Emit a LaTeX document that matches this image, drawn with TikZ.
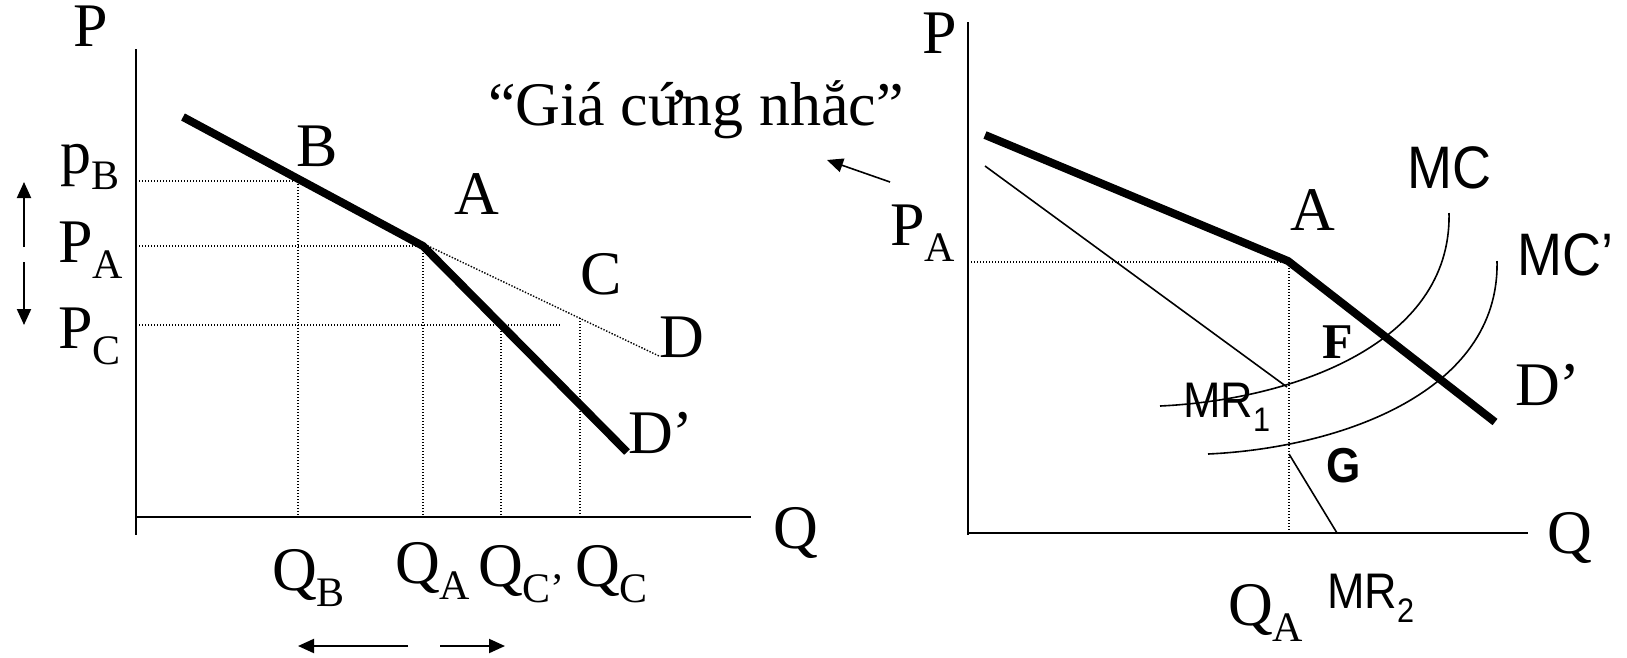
\documentclass[tikz,border=0pt]{standalone}
\usepackage{fontspec}
\setmainfont{Liberation Serif}
\newfontfamily\sansf[FakeStretch=0.9]{Liberation Sans}
\usetikzlibrary{arrows.meta}
\newcommand\lsub[1]{\raisebox{-0.26em}{\fontsize{42}{42}\selectfont #1}}
\newcommand\ssub[1]{\raisebox{-0.28em}{\fontsize{34}{34}\selectfont #1}}
\begin{document}
\begin{tikzpicture}[x=1pt,y=-1pt,
  lbl/.style={inner sep=0pt, anchor=base west, font=\fontsize{62}{70}\selectfont},
  slbl/.style={inner sep=0pt, anchor=base west, font=\sansf\fontsize{60}{66}\selectfont},
  mlbl/.style={inner sep=0pt, anchor=base west, font=\sansf\fontsize{50}{56}\selectfont},
  axisline/.style={line width=2pt},
  demand/.style={line width=8pt},
  thinline/.style={line width=1.6pt},
  dots/.style={line width=1.4pt, dash pattern=on 1.4pt off 1.6pt},
  arr/.style={line width=2pt, -{Triangle[length=16pt,width=14pt]}}]
\useasboundingbox (0,0) rectangle (1627,657);

% ---------------- left chart ----------------
\coordinate (Yt1) at (136,49);
\coordinate (Yb1) at (136,535);
\coordinate (Xl1) at (136,517);
\coordinate (Xr1) at (751,517);
\draw[axisline] (Yt1) -- (Yb1);
\draw[axisline] (Xl1) -- (Xr1);

\coordinate (S1) at (183,117);
\coordinate (K1) at (423,246);
\coordinate (E1) at (627,452);
\coordinate (Bp) at (298,181);
\coordinate (Bax) at (136,181);
\coordinate (Bq) at (298,517);
\coordinate (PAax) at (136,246);
\coordinate (QAq) at (423,517);
\coordinate (PCax) at (136,325);
\coordinate (PCend) at (561,325);
\coordinate (Cp) at (501,325);
\coordinate (Cq) at (501,517);
\coordinate (Dp) at (580,318);
\coordinate (Dq) at (580,517);
\coordinate (Ds) at (403,234);
\coordinate (De) at (659,356);

\draw[dots] (Bax) -- (Bp) -- (Bq);
\draw[dots] (PAax) -- (K1) -- (QAq);
\draw[dots] (PCax) -- (PCend);
\draw[dots] (Cp) -- (Cq);
\draw[dots] (Dp) -- (Dq);
\draw[dots] (Ds) -- (De);
\draw[demand] (S1) -- (K1) -- (E1);

\node[lbl] (lP) at (73,46) {P};
\node[lbl] (lpB) at (60,173) {p\lsub{B}};
\node[lbl] (lPA) at (58,262) {P\lsub{A}};
\node[lbl] (lPC) at (58,348) {P\lsub{C}};
\node[lbl] (lB) at (296,166) {B};
\node[lbl] (lA) at (454,214) {A};
\node[lbl] (lC) at (580,294) {C};
\node[lbl] (lD) at (659,357) {D};
\node[lbl] (lDp) at (628,453) {D’};
\node[lbl] (lQ) at (773,548) {Q};
\node[lbl] (lQB) at (272,590) {Q\lsub{B}};
\node[lbl] (lQA) at (395,583) {Q\lsub{A}};
\node[lbl] (lQCp) at (478,586) {Q\lsub{C’}};
\node[lbl] (lQC) at (575,586) {Q\lsub{C}};

\coordinate (ua0) at (24,247);
\coordinate (ua1) at (24,182);
\coordinate (da0) at (24,262);
\coordinate (da1) at (24,325);
\draw[arr] (ua0) -- (ua1);
\draw[arr] (da0) -- (da1);
\coordinate (la0) at (408,646);
\coordinate (la1) at (298,646);
\coordinate (ra0) at (440,646);
\coordinate (ra1) at (505,646);
\draw[arr] (la0) -- (la1);
\draw[arr] (ra0) -- (ra1);

% title
\node[lbl] (title) at (488,125) {“Giá cứng nhắc”};
\coordinate (ta0) at (890,182);
\coordinate (ta1) at (827,160);
\draw[arr, line width=1.6pt] (ta0) -- (ta1);

% ---------------- right chart ----------------
\coordinate (Yt2) at (968,22);
\coordinate (Yb2) at (968,535);
\coordinate (Xl2) at (968,533);
\coordinate (Xr2) at (1528,533);
\draw[axisline] (Yt2) -- (Yb2);
\draw[axisline] (Xl2) -- (Xr2);

\coordinate (S2) at (985,135);
\coordinate (K2) at (1288,261);
\coordinate (E2) at (1495,422);
\coordinate (PA2ax) at (968,262);
\coordinate (PA2) at (1289,262);
\coordinate (QA2) at (1289,533);
\coordinate (M1s) at (985,166);
\coordinate (M1e) at (1287,387);
\coordinate (M2s) at (1289,454);
\coordinate (M2e) at (1337,533);

\draw[dots] (PA2ax) -- (PA2) -- (QA2);
\draw[thinline] (M1s) -- (M1e);
\draw[thinline] (M2s) -- (M2e);

\coordinate (MCs) at (1160,406);
\coordinate (MCe) at (1449,213);
\coordinate (MCps) at (1208,454);
\coordinate (MCpe) at (1497,261);
\draw[thinline] (MCs) .. controls (1290,400) and (1452,345) .. (MCe);
\draw[thinline] (MCps) .. controls (1338,448) and (1500,393) .. (MCpe);
\draw[demand] (S2) -- (K2) -- (E2);

\node[lbl] (rP) at (922,53) {P};
\node[lbl] (rPA) at (890,245) {P\lsub{A}};
\node[lbl] (rA) at (1290,230) {A};
\node[slbl] (rMC) at (1407,188) {MC};
\node[slbl] (rMCp) at (1517,275) {MC’};
\node[inner sep=0pt, anchor=base west, font=\fontsize{50}{56}\selectfont\bfseries] (rF) at (1322,358) {F};
\node[inner sep=0pt, anchor=base west, font=\sansf\fontsize{49}{56}\selectfont\bfseries] (rG) at (1326,482) {G};
\node[mlbl] (rMR1) at (1183,417) {MR\ssub{1}};
\node[lbl] (rDp) at (1515,405) {D’};
\node[lbl] (rQ) at (1547,553) {Q};
\node[lbl] (rQA) at (1228,625) {Q\lsub{A}};
\node[mlbl] (rMR2) at (1327,608) {MR\ssub{2}};
\end{tikzpicture}
\end{document}
